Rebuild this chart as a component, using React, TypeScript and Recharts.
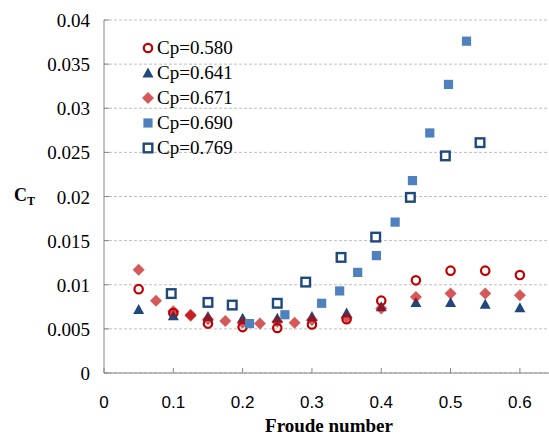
import React from 'react';
import { ScatterChart, Scatter, XAxis, YAxis, CartesianGrid, Legend } from 'recharts';

// Froude number / total resistance coefficient, one pair of arrays per prismatic coefficient
const fr580 = [0.05, 0.1, 0.15, 0.2, 0.25, 0.3, 0.35, 0.4, 0.45, 0.5, 0.55, 0.6];
const ct580 = [0.0095, 0.0068, 0.0056, 0.0052, 0.0051, 0.0055, 0.0061, 0.0082, 0.0105, 0.0116, 0.0116, 0.0111];

const fr641 = [0.05, 0.1, 0.15, 0.2, 0.25, 0.3, 0.35, 0.4, 0.45, 0.5, 0.55, 0.6];
const ct641 = [0.0072, 0.0065, 0.0064, 0.0062, 0.0062, 0.0064, 0.0068, 0.0075, 0.008, 0.008, 0.0078, 0.0074];

const fr671 = [0.05, 0.075, 0.1, 0.125, 0.125, 0.15, 0.175, 0.2, 0.225, 0.25, 0.275, 0.3, 0.35, 0.4, 0.45, 0.5, 0.55, 0.6];
const ct671 = [0.0117, 0.0082, 0.007, 0.0066, 0.0065, 0.0061, 0.0059, 0.0057, 0.0056, 0.0058, 0.0057, 0.006, 0.0063, 0.0073, 0.0086, 0.009, 0.009, 0.0088];

const fr690 = [0.21, 0.261, 0.314, 0.34, 0.366, 0.393, 0.42, 0.445, 0.47, 0.497, 0.523];
const ct690 = [0.0056, 0.0066, 0.0079, 0.0093, 0.0114, 0.0133, 0.0171, 0.0218, 0.0272, 0.0327, 0.0376];

const fr769 = [0.097, 0.15, 0.185, 0.25, 0.291, 0.342, 0.392, 0.442, 0.4925, 0.5425];
const ct769 = [0.009, 0.008, 0.0077, 0.0079, 0.0103, 0.0131, 0.0154, 0.0199, 0.0246, 0.0261];

const xTicks = [0, 0.1, 0.2, 0.3, 0.4, 0.5, 0.6];
const yTicks = [0, 0.005, 0.01, 0.015, 0.02, 0.025, 0.03, 0.035, 0.04];

const toPoints = (xs: number[], ys: number[]) => xs.map((x, i) => ({ fr: x, ct: ys[i] }));

const RED = '#C00000';
const NAVY = '#1F497D';
const BLUE = '#4F81BD';
const SERIF = "'Liberation Serif', 'Times New Roman', serif";
const SANS = "'Liberation Sans', Arial, sans-serif";
const AXIS = '#868686';

const circle = (cx: number, cy: number) => (
  <circle cx={cx} cy={cy} r={4.2} fill="none" stroke={RED} strokeWidth={2.2} />
);
const triangle = (cx: number, cy: number) => (
  <polygon points={`${cx},${cy - 5.5} ${cx - 5.5},${cy + 4.5} ${cx + 5.5},${cy + 4.5}`} fill={NAVY} />
);
const diamond = (cx: number, cy: number) => (
  <polygon points={`${cx},${cy - 6} ${cx + 6},${cy} ${cx},${cy + 6} ${cx - 6},${cy}`} fill={RED} fillOpacity={0.65} />
);
const square = (cx: number, cy: number) => (
  <rect x={cx - 4.6} y={cy - 4.6} width={9.2} height={9.2} fill={BLUE} />
);
const openSquare = (cx: number, cy: number) => (
  <rect x={cx - 4.3} y={cy - 4.3} width={8.6} height={8.6} fill="#fff" stroke={NAVY} strokeWidth={2.4} />
);

const series = [
  { name: 'Cp=0.580', data: toPoints(fr580, ct580), mark: circle },
  { name: 'Cp=0.641', data: toPoints(fr641, ct641), mark: triangle },
  { name: 'Cp=0.671', data: toPoints(fr671, ct671), mark: diamond },
  { name: 'Cp=0.690', data: toPoints(fr690, ct690), mark: square },
  { name: 'Cp=0.769', data: toPoints(fr769, ct769), mark: openSquare },
];

const renderXTick = (props: any) => {
  const { x, y, payload } = props;
  return (
    <g>
      <line x1={x} y1={y} x2={x} y2={y - 5} stroke={AXIS} />
      <text x={x} y={y + 35} textAnchor="middle" style={{ fontFamily: SANS, fontSize: 17 }} fill="#000">
        {String(payload.value)}
      </text>
    </g>
  );
};

const renderYTick = (props: any) => {
  const { x, y, payload } = props;
  return (
    <g>
      <line x1={x} y1={y} x2={x + 5} y2={y} stroke={AXIS} />
      <text x={x - 14} y={y + 7} textAnchor="end" style={{ fontFamily: SERIF, fontSize: 19 }} fill="#000">
        {String(payload.value)}
      </text>
    </g>
  );
};

const YLabel = () => (
  <text x={14} y={201} style={{ fontFamily: SERIF, fontWeight: 'bold', fontSize: 18 }} fill="#000">
    C<tspan style={{ fontSize: 12 }} dy={4}>T</tspan>
  </text>
);

const XLabel = () => (
  <text x={329} y={432} textAnchor="middle" style={{ fontFamily: SERIF, fontWeight: 'bold', fontSize: 19 }} fill="#000">
    Froude number
  </text>
);

const LegendBox = () => (
  <div style={{ fontFamily: SERIF, fontSize: 19, color: '#000' }}>
    {series.map((s) => (
      <div key={s.name} style={{ display: 'flex', alignItems: 'center', height: 25 }}>
        <svg width={16} height={16} style={{ marginRight: 1 }}>
          {s.mark(8, 8)}
        </svg>
        <span>{s.name}</span>
      </div>
    ))}
  </div>
);

export default function App() {
  return (
    <div style={{ position: 'absolute', left: 0, top: 0, width: 549, height: 436, background: '#fff' }}>
      <ScatterChart width={549} height={436} margin={{ top: 20, right: 0, bottom: 0, left: 0 }}>
        <CartesianGrid vertical={false} stroke="#BFBFBF" strokeDasharray="3 2" />
        <XAxis
          type="number"
          dataKey="fr"
          domain={[0, 0.642]}
          ticks={xTicks}
          allowDataOverflow
          height={63}
          stroke={AXIS}
          tickLine={false}
          tickSize={0}
          tickMargin={0}
          tick={renderXTick}
          label={<XLabel />}
        />
        <YAxis
          type="number"
          dataKey="ct"
          domain={[0, 0.04]}
          ticks={yTicks}
          width={104}
          stroke={AXIS}
          tickLine={false}
          tickSize={0}
          tickMargin={0}
          tick={renderYTick}
          label={<YLabel />}
        />
        <Legend
          layout="horizontal"
          verticalAlign="middle"
          align="center"
          content={<LegendBox />}
          wrapperStyle={{ position: 'absolute', left: 140, top: 35, width: 120 }}
        />
        {series.map((s) => (
          <Scatter
            key={s.name}
            name={s.name}
            data={s.data}
            isAnimationActive={false}
            shape={(p: any) => s.mark(p.cx, p.cy)}
          />
        ))}
      </ScatterChart>
    </div>
  );
}
